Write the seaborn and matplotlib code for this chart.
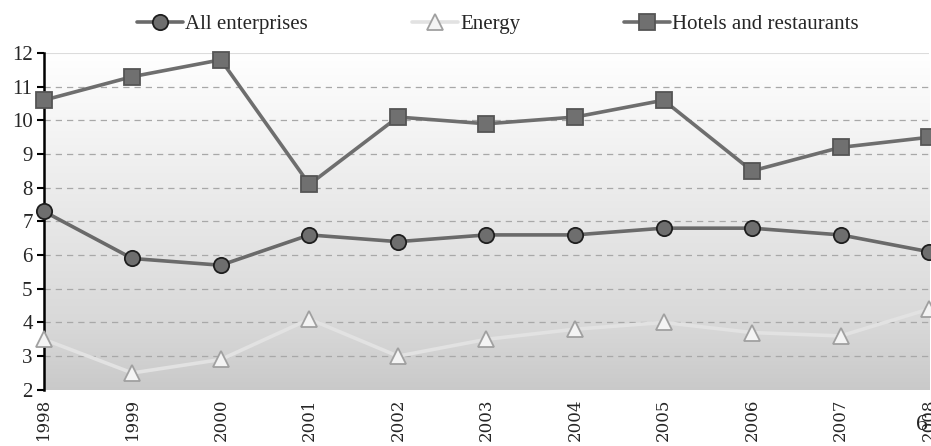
import numpy as np
import pandas as pd
import matplotlib.pyplot as plt
import seaborn as sns

# dados
anos = [1998, 1999, 2000, 2001, 2002, 2003, 2004, 2005, 2006, 2007, 2008]
todas_empresas = [7.3, 5.9, 5.7, 6.6, 6.4, 6.6, 6.6, 6.8, 6.8, 6.6, 6.1]
energia = [3.5, 2.5, 2.9, 4.1, 3.0, 3.5, 3.8, 4.0, 3.7, 3.6, 4.4]
hoteis = [10.6, 11.3, 11.8, 8.1, 10.1, 9.9, 10.1, 10.6, 8.5, 9.2, 9.5]
rotulos_y = list(range(2, 13))

sns.set_style("white")
plt.rcParams['font.family'] = ['Liberation Serif', 'DejaVu Serif']

fig = plt.figure(figsize=(9.31, 4.46), dpi=100)
ax = fig.add_axes([0.047, 0.126, 0.951, 0.755])

# fundo em degradê (branco em cima, cinza embaixo)
grad = np.linspace(0, 1, 256).reshape(-1, 1)
cores = np.interp(grad, [0, 0.2, 1], [0.79, 0.85, 1.0])
ax.imshow(np.dstack([cores, cores, cores]), extent=[0, 1, 0, 1], transform=ax.transAxes,
          aspect='auto', origin='lower', zorder=0)

for v in rotulos_y[1:-1]:
    ax.axhline(v, color='#a8a8a8', lw=0.9, ls=(0, (5, 4)), zorder=1)
ax.axhline(12, color='#dcdcdc', lw=1.5, zorder=1)

series = [
    ('All enterprises', todas_empresas, dict(color='#6a6a6a', marker='o', markersize=11,
                                            markerfacecolor='#6e6e6e', markeredgecolor='#1e1e1e', lw=2.6)),
    ('Energy', energia, dict(color='#e2e2e2', marker='^', markersize=11,
                             markerfacecolor='#f4f4f4', markeredgecolor='#a0a0a0', lw=2.6)),
    ('Hotels and restaurants', hoteis, dict(color='#6e6e6e', marker='s', markersize=11,
                                            markerfacecolor='#707070', markeredgecolor='#555555', lw=2.6)),
]
for nome, valores, estilo in series:
    df = pd.DataFrame({'ano': anos, 'valor': valores})
    sns.lineplot(data=df, x='ano', y='valor', ax=ax, label=nome, clip_on=False,
                 markeredgewidth=1.3, zorder=3, **estilo)

ax.set_xlim(anos[0], anos[-1])
ax.set_ylim(2, 12)
ax.set_xticks(anos)
ax.set_xticklabels([str(a) for a in anos], rotation=90, fontsize=12,
                   family=['DejaVu Serif'])
ax.set_yticks(rotulos_y)
ax.set_yticklabels([str(v) for v in rotulos_y], fontsize=15)
ax.tick_params(axis='y', length=5, width=1.5, color='black', left=True, pad=3)
ax.tick_params(axis='x', length=0, pad=6)
ax.set_xlabel('')
ax.set_ylabel('')
for lado in ['top', 'right', 'bottom']:
    ax.spines[lado].set_visible(False)
ax.spines['left'].set_linewidth(1.8)
ax.spines['left'].set_color('black')

ax.legend(loc='upper center', bbox_to_anchor=(0.513, 1.17), ncol=3, frameon=False,
          fontsize=15, handlelength=2.2, columnspacing=5.0, handletextpad=0.1)

fig.text(0.996, 0.025, '6', fontsize=17, ha='right', va='bottom')

plt.savefig('out.png', dpi=100)
